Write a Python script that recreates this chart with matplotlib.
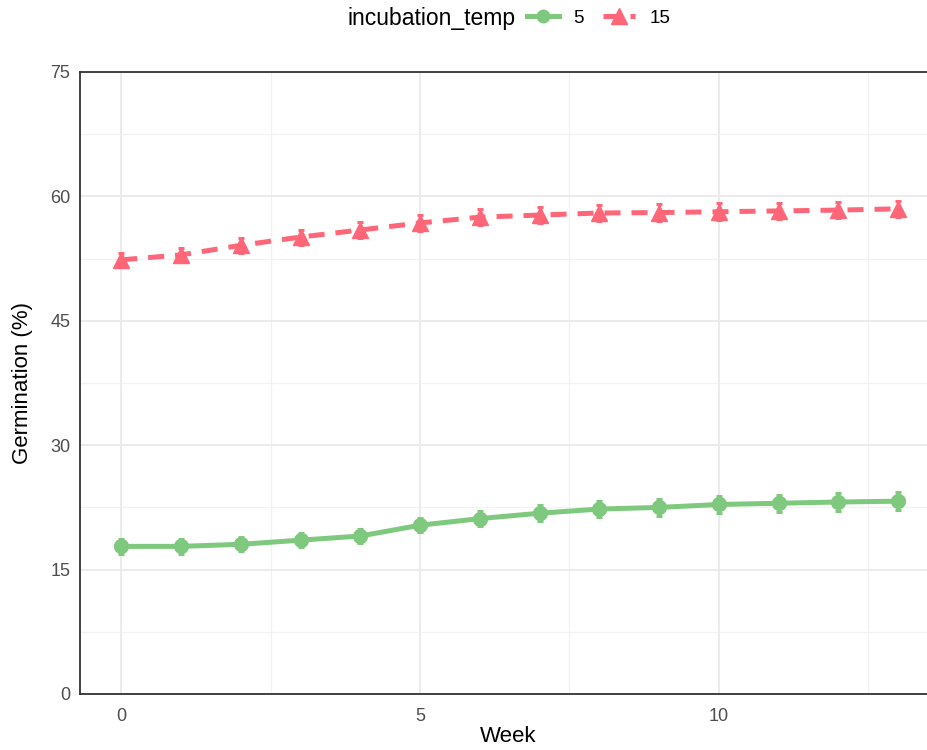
import matplotlib
matplotlib.use("Agg")
import matplotlib.pyplot as plt
from matplotlib.lines import Line2D
from matplotlib.offsetbox import HPacker

plt.rcParams['font.family'] = ['Liberation Sans', 'DejaVu Sans']

weeks = list(range(14))
germ_5 = [17.8, 17.8, 18.05, 18.55, 19.05, 20.35, 21.15, 21.8, 22.3, 22.5, 22.85, 23.0, 23.15, 23.25]
err_5 = [0.95, 0.9, 0.85, 0.85, 0.85, 0.85, 0.95, 0.95, 1.0, 1.0, 1.0, 1.0, 1.05, 1.05]
germ_15 = [52.35, 52.95, 54.1, 55.1, 55.95, 56.8, 57.5, 57.75, 58.0, 58.05, 58.15, 58.25, 58.35, 58.5]
err_15 = [0.85, 0.85, 0.9, 0.9, 0.95, 0.95, 1.0, 1.0, 1.0, 1.0, 1.0, 1.0, 1.0, 1.0]
legend_title = "incubation_temp"
labels = ["5", "15"]

green = "#7FC97F"
red = "#FF6677"

W, H = 928, 750
fig = plt.figure(figsize=(W / 100, H / 100), dpi=100)
left_px, right_px, top_px, bottom_px = 80, 937, 72, 694
ax = fig.add_axes([left_px / W, 1 - bottom_px / H, (right_px - left_px) / W, (bottom_px - top_px) / H])

ax.set_xlim(-0.69, 13.65)
ax.set_ylim(0, 75)

ax.set_xticks([0, 5, 10])
ax.set_xticks([2.5, 7.5, 12.5], minor=True)
ax.set_yticks([0, 15, 30, 45, 60, 75])
ax.set_yticks([7.5, 22.5, 37.5, 52.5, 67.5], minor=True)
ax.grid(True, which='major', color='#EBEBEB', linewidth=1.4)
ax.grid(True, which='minor', color='#F2F2F2', linewidth=0.9)
ax.set_axisbelow(True)
ax.tick_params(which='both', length=0, labelsize=13, labelcolor='#4D4D4D')
ax.tick_params(axis='x', pad=10)
ax.tick_params(axis='y', pad=7)

for s in ['left', 'bottom', 'top']:
    ax.spines[s].set_color('#333333')
    ax.spines[s].set_linewidth(1.3)
ax.spines['right'].set_visible(False)

ax.errorbar(weeks, germ_5, yerr=err_5, color=green, linewidth=3.6, marker='o', markersize=10,
            elinewidth=2.2, capsize=2.5, capthick=2.2, zorder=3)
ax.errorbar(weeks, germ_15, yerr=err_15, color=red, linewidth=3.6, linestyle=(0, (3.2, 2.2)),
            marker='^', markersize=12, elinewidth=2.2, capsize=2.5, capthick=2.2, zorder=3)

ax.set_xlabel("Week", fontsize=16, labelpad=1)
ax.set_ylabel("Germination (%)", fontsize=16, labelpad=12)

handles = [
    Line2D([], [], color=green, linewidth=3.6, marker='o', markersize=9),
    Line2D([], [], color=red, linewidth=3.6, linestyle=(0, (3.2, 2.2)), marker='^', markersize=11),
]
leg = fig.legend(handles, labels, title=legend_title, loc='center', bbox_to_anchor=(509 / W, 1 - 18 / H),
                 ncol=2, frameon=False, fontsize=13.5, title_fontsize=16.5, handlelength=1.7,
                 handletextpad=0.8, columnspacing=1.0, borderpad=0)
title = leg._legend_title_box
body = leg._legend_handle_box
leg._legend_box._children = [HPacker(pad=0, sep=8, children=[title, body], align='center')]

fig.savefig("out.png", dpi=100)
